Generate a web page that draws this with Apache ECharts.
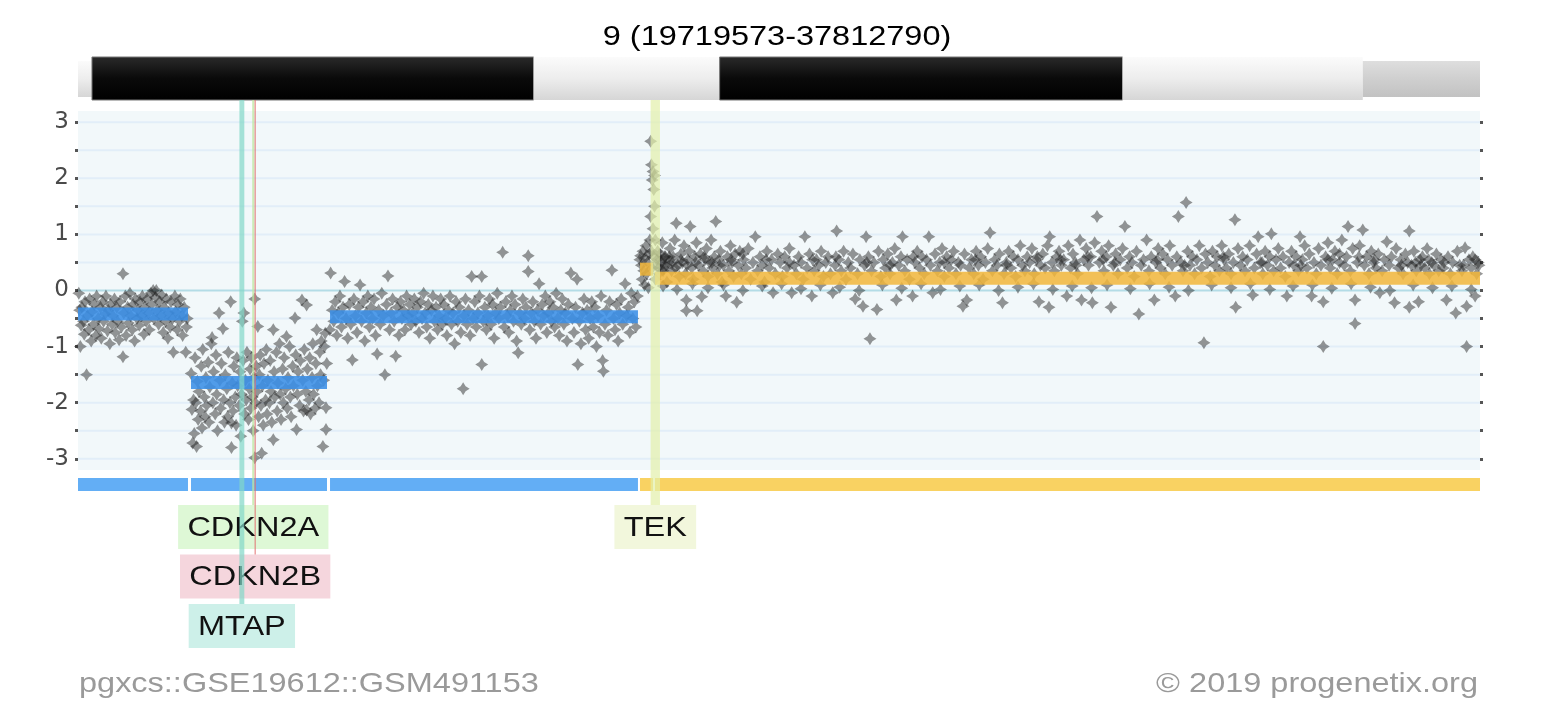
<!DOCTYPE html>
<html><head><meta charset="utf-8">
<script src="https://cdn.jsdelivr.net/npm/echarts@6/dist/echarts.min.js"></script>
<style>html,body{margin:0;padding:0;background:#fff}#chart{width:1542px;height:706px}</style>
</head><body><div id="chart"></div>
<script>
// ---------- data ----------
const regionStart = 19.719573, regionEnd = 37.812790; // Mb
const titleText = '9 (19719573-37812790)';
const footerLeft = 'pgxcs::GSE19612::GSM491153';
const footerRight = '\u00A9 2019 progenetix.org';
const yLabelValues = [-3, -2, -1, 0, 1, 2, 3];
const yTickValues = [-3, -2.5, -2, -1.5, -1, -0.5, 0, 0.5, 1, 1.5, 2, 2.5, 3];

const bandNames  = ['p22.1', 'p21.3', 'p21.2', 'p21.1', 'p13.3', 'p13.2'];
const bandStarts = [18.5, 19.9, 25.6, 28.0, 33.2, 36.3];
const bandEnds   = [19.9, 25.6, 28.0, 33.2, 36.3, 38.4];
const bandStains = ['gneg', 'gpos100', 'gneg', 'gpos100', 'gneg', 'gpos25'];

const segStarts = [19.719573, 21.178, 22.972, 26.972, 27.166];
const segEnds   = [21.139, 22.933, 26.946, 27.140, 37.812790];
const segValues = [-0.42, -1.64, -0.47, 0.38, 0.22];

const geneNames  = ['CDKN2A', 'CDKN2B', 'MTAP', 'TEK'];
const geneStarts = [21.967751, 22.002902, 21.802635, 27.109141];
const geneEnds   = [21.995300, 22.009312, 21.865971, 27.230174];

const probesA = [[19.73,-0.05],[19.74,-0.35],[19.75,-1.0],[19.76,-0.62],[19.77,-0.3],[19.79,-0.55],[19.80,-0.78],[19.81,-0.2],[19.83,-1.5],[19.84,-0.45],[19.86,-0.7],[19.87,-0.15],[19.89,-0.9],[19.90,-0.38],[19.92,-0.6],[19.93,-0.25],[19.95,-0.8],[19.96,-0.1],[19.98,-0.5],[19.99,-0.68],[20.01,-0.3],[20.02,-0.85],[20.04,-0.2],[20.05,-0.55],[20.07,-0.42],[20.08,-0.1],[20.10,-0.72],[20.11,-0.35],[20.13,-0.95],[20.14,-0.25],[20.16,-0.6],[20.17,-0.45],[20.19,-0.15],[20.20,-0.75],[20.22,-0.3],[20.23,-0.55],[20.25,-0.88],[20.26,-0.2],[20.28,-0.65],[20.30,0.3],[20.30,-1.18],[20.31,-0.4],[20.33,-0.1],[20.34,-0.8],[20.36,-0.3],[20.37,-0.58],[20.39,-0.05],[20.40,-0.45],[20.42,-0.7],[20.43,-0.25],[20.45,-0.9],[20.46,-0.15],[20.48,-0.5],[20.49,-0.35],[20.51,-0.62],[20.52,-0.2],[20.54,-0.45],[20.55,-0.1],[20.57,-0.78],[20.58,-0.3],[20.60,-0.55],[20.61,-0.15],[20.63,-0.4],[20.64,-0.7],[20.66,-0.05],[20.67,-0.25],[20.69,0.0],[20.70,-0.5],[20.72,-0.12],[20.73,0.0],[20.74,-0.35],[20.76,-0.6],[20.77,-0.2],[20.79,-0.45],[20.80,-0.08],[20.82,-0.75],[20.83,-0.3],[20.85,-0.55],[20.86,-0.15],[20.88,-0.85],[20.89,-0.4],[20.91,-0.65],[20.92,-0.2],[20.94,-0.5],[20.95,-1.1],[20.97,-0.1],[20.98,-0.38],[21.00,-0.7],[21.01,-0.25],[21.03,-0.55],[21.04,-0.15],[21.06,-0.45],[21.07,-0.8],[21.09,-0.3],[21.11,-1.1],[21.12,-0.65],[21.13,-0.5]];

const probesB = [[21.18,-1.48],[21.19,-2.12],[21.20,-2.72],[21.21,-1.95],[21.22,-2.55],[21.23,-1.2],[21.24,-2.0],[21.25,-2.78],[21.26,-1.62],[21.27,-2.3],[21.28,-1.8],[21.30,-2.15],[21.31,-1.35],[21.32,-2.45],[21.33,-1.05],[21.35,-1.9],[21.36,-2.25],[21.37,-1.55],[21.38,-2.05],[21.40,-1.28],[21.41,-2.35],[21.42,-1.72],[21.44,-0.95],[21.45,-0.84],[21.46,-2.0],[21.47,-1.45],[21.49,-2.2],[21.50,-1.15],[21.51,-1.85],[21.52,-2.5],[21.54,-0.4],[21.55,-1.6],[21.56,-2.1],[21.57,-1.3],[21.59,-0.68],[21.60,-1.95],[21.61,-2.35],[21.62,-1.5],[21.64,-1.75],[21.65,-2.25],[21.66,-1.1],[21.68,-2.0],[21.69,-0.2],[21.70,-2.8],[21.70,-2.36],[21.71,-1.65],[21.72,-2.15],[21.73,-1.35],[21.75,-1.9],[21.76,-2.4],[21.77,-1.2],[21.78,-1.7],[21.80,-2.05],[21.81,-1.45],[21.82,-2.6],[21.83,-1.85],[21.84,-0.55],[21.85,-1.25],[21.86,-0.4],[21.87,-2.2],[21.88,-1.6],[21.89,-1.95],[21.90,-1.1],[21.92,-2.3],[21.93,-1.75],[21.94,-1.4],[21.95,-2.1],[21.96,-1.2],[21.97,-1.9],[21.98,-2.5],[21.99,-1.55],[22.00,-0.15],[22.00,-2.98],[22.01,-2.0],[22.02,-1.35],[22.03,-1.8],[22.04,-0.64],[22.05,-2.25],[22.06,-1.5],[22.07,-1.15],[22.08,-2.05],[22.09,-2.9],[22.10,-1.7],[22.11,-2.4],[22.12,-1.3],[22.14,-1.95],[22.15,-1.05],[22.16,-2.2],[22.17,-1.6],[22.19,-2.0],[22.20,-1.25],[22.21,-1.8],[22.22,-2.35],[22.24,-0.7],[22.24,-2.66],[22.25,-1.45],[22.26,-1.9],[22.28,-1.1],[22.29,-2.15],[22.30,-1.65],[22.32,-0.95],[22.33,-1.85],[22.34,-2.3],[22.36,-1.4],[22.37,-2.0],[22.38,-1.2],[22.40,-1.75],[22.41,-0.82],[22.42,-2.1],[22.43,-1.55],[22.45,-1.0],[22.46,-1.9],[22.47,-2.25],[22.49,-1.35],[22.50,-1.7],[22.52,-0.49],[22.53,-1.15],[22.54,-2.48],[22.55,-1.85],[22.56,-1.45],[22.58,-2.05],[22.59,-1.25],[22.61,-0.17],[22.62,-1.6],[22.63,-2.15],[22.64,-1.05],[22.66,-1.8],[22.67,-0.26],[22.67,-2.13],[22.68,-1.4],[22.70,-1.95],[22.71,-1.2],[22.72,-2.2],[22.74,-1.55],[22.75,-0.95],[22.76,-1.85],[22.78,-2.1],[22.79,-1.3],[22.80,-0.7],[22.81,-1.7],[22.83,-2.0],[22.84,-1.1],[22.85,-1.5],[22.86,-0.9],[22.88,-2.78],[22.89,-1.6],[22.90,-1.0],[22.91,-0.76],[22.92,-2.48],[22.92,-2.09],[22.93,-1.3]];

const probesC = [[22.97,-0.7],[22.98,0.31],[23.00,-0.35],[23.02,-0.55],[23.04,-0.2],[23.06,-0.8],[23.08,-0.4],[23.10,-0.1],[23.12,-0.65],[23.14,-0.3],[23.16,0.16],[23.18,-0.5],[23.20,-0.85],[23.22,-0.25],[23.24,-0.6],[23.26,-1.24],[23.28,-0.15],[23.30,-0.45],[23.32,-0.75],[23.34,-0.3],[23.36,0.1],[23.38,-0.55],[23.40,-0.2],[23.42,-0.9],[23.44,-0.4],[23.46,-0.1],[23.48,-0.65],[23.50,-0.3],[23.52,-0.5],[23.54,-0.15],[23.56,-0.8],[23.58,-1.13],[23.60,-0.35],[23.62,-0.6],[23.64,-0.05],[23.66,-0.45],[23.68,-1.5],[23.70,-0.25],[23.72,0.26],[23.74,-0.7],[23.76,-0.4],[23.78,-0.15],[23.80,-0.55],[23.82,-1.17],[23.84,-0.3],[23.86,-0.8],[23.88,-0.2],[23.90,-0.5],[23.92,-0.35],[23.94,-0.7],[23.96,-0.1],[23.98,-0.45],[24.00,-0.25],[24.02,-0.6],[24.04,-0.4],[24.06,-0.15],[24.08,-0.55],[24.10,-0.3],[24.12,-0.75],[24.14,-0.2],[24.16,-0.5],[24.18,-0.05],[24.20,-0.4],[24.22,-0.65],[24.24,-0.25],[24.26,-0.85],[24.28,-0.35],[24.30,-0.1],[24.32,-0.55],[24.34,-0.3],[24.36,-0.7],[24.38,-0.45],[24.40,-0.15],[24.42,-0.6],[24.44,-0.25],[24.46,-0.5],[24.48,-0.8],[24.50,-0.35],[24.52,-0.1],[24.54,-0.6],[24.56,-0.4],[24.58,-0.95],[24.60,-0.2],[24.62,-0.55],[24.64,-0.3],[24.66,-0.75],[24.69,-1.75],[24.70,-0.45],[24.72,-0.15],[24.74,-0.6],[24.76,-0.35],[24.78,-0.8],[24.80,0.25],[24.82,-0.5],[24.84,-0.2],[24.86,-0.65],[24.88,-0.4],[24.90,-0.1],[24.93,0.25],[24.93,-1.32],[24.95,-0.55],[24.97,-0.3],[24.99,-0.7],[25.01,-0.45],[25.03,-0.15],[25.05,-0.6],[25.07,-0.25],[25.09,-0.85],[25.11,-0.4],[25.13,-0.05],[25.15,-0.5],[25.17,-0.3],[25.20,0.68],[25.22,-0.65],[25.24,-0.2],[25.26,-0.45],[25.28,-0.75],[25.30,-0.35],[25.32,-0.1],[25.34,-0.55],[25.36,-0.25],[25.38,-0.9],[25.40,-1.11],[25.42,-0.4],[25.44,-0.6],[25.46,-0.15],[25.48,-0.5],[25.50,-0.3],[25.53,0.62],[25.53,0.34],[25.55,-0.7],[25.57,-0.4],[25.59,-0.2],[25.61,-0.55],[25.63,-0.85],[25.65,-0.35],[25.67,0.12],[25.69,-0.6],[25.71,-0.25],[25.73,-0.45],[25.75,-0.1],[25.77,-0.75],[25.79,-0.4],[25.81,-0.2],[25.83,-0.55],[25.85,-0.3],[25.87,-0.65],[25.89,-0.05],[25.91,-0.5],[25.93,-0.8],[25.95,-0.35],[25.97,-0.15],[25.99,-0.6],[26.01,-0.4],[26.03,-0.9],[26.05,-0.25],[26.08,0.31],[26.10,-0.5],[26.12,-0.75],[26.14,-0.3],[26.16,0.2],[26.17,-1.32],[26.19,-0.55],[26.21,-0.95],[26.23,-0.4],[26.25,-0.15],[26.27,-0.7],[26.29,-0.35],[26.31,-0.85],[26.33,-0.5],[26.35,-0.2],[26.37,-0.65],[26.39,-0.3],[26.41,-1.0],[26.43,-0.45],[26.45,-0.75],[26.47,-0.1],[26.49,-1.25],[26.50,-1.44],[26.52,-0.6],[26.54,-0.35],[26.56,-0.8],[26.58,-0.2],[26.61,0.36],[26.63,-0.5],[26.65,-0.7],[26.67,-0.25],[26.69,-0.9],[26.71,-0.4],[26.73,-0.15],[26.75,-0.6],[26.78,0.12],[26.80,-0.45],[26.82,-0.3],[26.84,-0.75],[26.86,-0.05],[26.88,-0.5],[26.90,-0.2],[26.92,-0.65],[26.94,-0.1]];

const probesD = [[26.97,0.55],[26.98,0.62],[26.99,0.45],[27.00,0.2],[27.01,0.7],[27.02,0.35],[27.03,0.1],[27.04,0.58],[27.05,0.8],[27.06,0.3],[27.07,0.5],[27.08,0.05],[27.09,0.65],[27.10,0.9],[27.11,2.66],[27.11,1.32],[27.12,2.24],[27.12,0.7],[27.13,1.97],[27.13,0.4],[27.14,2.12],[27.14,1.1],[27.15,1.8],[27.15,0.6],[27.16,1.5],[27.16,2.05],[27.17,0.9],[27.17,0.2]];

const probesE = [[27.18,0.45],[27.20,0.7],[27.22,0.3],[27.24,0.55],[27.26,0.85],[27.28,0.4],[27.30,0.6],[27.32,0.15],[27.34,0.5],[27.36,0.75],[27.38,0.35],[27.40,0.6],[27.42,0.9],[27.44,1.2],[27.46,0.45],[27.48,0.25],[27.50,0.65],[27.52,0.5],[27.54,0.8],[27.56,0.3],[27.57,-0.17],[27.57,-0.36],[27.59,0.55],[27.61,0.7],[27.62,1.14],[27.64,0.4],[27.66,0.2],[27.68,0.6],[27.70,0.85],[27.71,-0.36],[27.73,0.45],[27.75,0.65],[27.77,-0.11],[27.79,0.35],[27.81,0.55],[27.83,0.75],[27.85,0.25],[27.87,0.5],[27.89,0.9],[27.91,0.4],[27.93,0.6],[27.95,1.23],[27.97,0.3],[27.99,0.55],[28.01,0.7],[28.03,0.15],[28.05,0.45],[28.08,-0.1],[28.10,0.6],[28.12,0.35],[28.14,0.8],[28.16,0.5],[28.18,0.25],[28.20,0.65],[28.22,-0.21],[28.24,0.45],[28.26,0.7],[28.28,0.3],[28.31,0.55],[28.34,0.4],[28.37,0.75],[28.40,0.2],[28.43,0.5],[28.46,0.96],[28.49,0.35],[28.52,0.6],[28.55,0.45],[28.58,0.15],[28.61,0.7],[28.64,0.4],[28.67,0.55],[28.69,-0.04],[28.72,0.3],[28.75,0.65],[28.78,0.5],[28.81,0.25],[28.84,0.6],[28.87,0.4],[28.90,0.75],[28.93,-0.04],[28.96,0.45],[28.99,0.3],[29.02,0.6],[29.05,0.5],[29.08,0.2],[29.10,0.96],[29.13,0.4],[29.16,0.65],[29.19,-0.1],[29.22,0.35],[29.25,0.55],[29.28,0.45],[29.31,0.7],[29.34,0.25],[29.37,0.5],[29.40,0.6],[29.43,0.3],[29.46,-0.04],[29.49,0.45],[29.51,1.06],[29.54,0.55],[29.57,0.35],[29.60,0.7],[29.63,0.2],[29.66,0.5],[29.69,0.4],[29.72,0.65],[29.75,-0.15],[29.78,0.3],[29.81,0.55],[29.85,-0.28],[29.87,0.45],[29.89,0.96],[29.92,0.6],[29.94,-0.86],[29.96,0.35],[29.99,0.5],[30.03,-0.34],[30.05,0.7],[30.08,0.25],[30.11,0.55],[30.14,0.4],[30.17,0.65],[30.20,0.3],[30.23,0.5],[30.26,0.75],[30.28,-0.17],[30.31,0.45],[30.34,0.6],[30.36,0.96],[30.39,0.35],[30.42,0.55],[30.45,0.2],[30.49,-0.1],[30.52,0.5],[30.55,0.7],[30.58,0.4],[30.61,0.6],[30.64,0.3],[30.67,0.55],[30.70,0.96],[30.72,0.45],[30.75,-0.04],[30.78,0.65],[30.81,0.35],[30.84,0.5],[30.87,0.75],[30.90,0.25],[30.93,0.6],[30.96,0.4],[30.99,0.55],[31.02,0.7],[31.05,0.3],[31.08,0.5],[31.11,0.45],[31.14,-0.28],[31.16,0.65],[31.19,-0.17],[31.22,0.4],[31.25,0.55],[31.28,0.3],[31.31,0.7],[31.34,0.45],[31.37,0.6],[31.40,0.2],[31.43,0.5],[31.46,0.75],[31.49,1.03],[31.52,0.35],[31.55,0.55],[31.58,0.45],[31.61,0.65],[31.65,-0.22],[31.67,0.3],[31.70,0.5],[31.73,0.7],[31.76,0.4],[31.79,0.6],[31.82,0.25],[31.85,0.55],[31.88,0.8],[31.91,0.45],[31.94,0.35],[31.97,0.6],[32.00,0.5],[32.03,0.75],[32.06,0.3],[32.09,0.55],[32.12,-0.2],[32.14,0.45],[32.17,0.65],[32.20,0.4],[32.23,0.8],[32.25,-0.3],[32.26,0.96],[32.29,0.5],[32.32,0.35],[32.35,0.6],[32.38,0.7],[32.41,0.45],[32.44,0.55],[32.48,-0.1],[32.50,0.8],[32.53,0.4],[32.56,0.65],[32.59,0.5],[32.62,0.3],[32.65,0.9],[32.67,-0.17],[32.70,0.55],[32.73,0.75],[32.76,0.45],[32.79,0.6],[32.81,-0.22],[32.84,0.85],[32.87,1.32],[32.90,0.5],[32.93,0.7],[32.96,0.35],[32.99,0.6],[33.02,0.8],[33.05,-0.3],[33.08,0.45],[33.11,0.65],[33.14,0.3],[33.17,0.55],[33.20,0.75],[33.23,1.14],[33.26,0.4],[33.29,0.6],[33.32,0.5],[33.35,0.25],[33.38,0.7],[33.41,-0.42],[33.44,0.45],[33.47,0.55],[33.51,0.9],[33.54,0.35],[33.57,0.6],[33.61,-0.17],[33.63,0.5],[33.66,0.75],[33.69,0.4],[33.72,0.65],[33.75,0.3],[33.78,0.55],[33.81,0.8],[33.84,0.45],[33.88,-0.1],[33.90,0.6],[33.92,1.32],[33.95,0.5],[33.98,0.35],[34.02,1.57],[34.04,0.7],[34.07,0.45],[34.10,0.6],[34.13,0.3],[34.16,0.55],[34.19,0.8],[34.22,0.4],[34.25,-0.93],[34.27,0.65],[34.30,0.5],[34.33,0.25],[34.36,0.7],[34.39,0.45],[34.42,0.6],[34.45,0.35],[34.48,0.8],[34.51,0.55],[34.54,0.4],[34.57,0.65],[34.60,0.3],[34.63,0.5],[34.65,1.26],[34.66,-0.3],[34.69,0.75],[34.72,0.45],[34.75,0.6],[34.78,0.35],[34.81,0.55],[34.84,0.8],[34.88,-0.08],[34.90,0.4],[34.93,0.65],[34.95,0.96],[34.98,0.5],[35.01,0.3],[35.04,0.7],[35.07,0.45],[35.10,0.6],[35.12,1.01],[35.15,0.35],[35.18,0.55],[35.21,0.75],[35.24,0.4],[35.27,0.6],[35.30,0.25],[35.32,-0.1],[35.35,0.5],[35.38,0.7],[35.41,0.45],[35.44,0.6],[35.47,0.35],[35.49,0.96],[35.52,0.55],[35.55,0.8],[35.58,0.4],[35.61,0.65],[35.64,-0.1],[35.67,0.5],[35.70,0.3],[35.73,0.75],[35.76,0.45],[35.79,-0.2],[35.79,-1.0],[35.82,0.6],[35.85,0.85],[35.88,0.4],[35.91,0.55],[35.94,0.7],[35.97,0.3],[36.00,0.65],[36.03,0.9],[36.06,0.45],[36.09,0.6],[36.11,1.14],[36.14,0.35],[36.17,0.75],[36.20,-0.59],[36.20,-0.17],[36.23,0.5],[36.26,0.8],[36.30,1.08],[36.32,0.45],[36.35,0.6],[36.38,0.3],[36.41,0.7],[36.44,0.5],[36.47,0.4],[36.50,0.65],[36.52,-0.04],[36.55,0.35],[36.58,0.55],[36.61,0.87],[36.64,0.45],[36.67,0.6],[36.71,-0.22],[36.73,0.75],[36.76,0.4],[36.79,0.55],[36.82,0.3],[36.85,0.65],[36.88,0.5],[36.90,1.06],[36.90,-0.3],[36.93,0.45],[36.96,0.7],[36.99,0.35],[37.02,-0.2],[37.04,0.55],[37.07,0.6],[37.10,0.4],[37.13,0.75],[37.16,0.3],[37.19,0.5],[37.22,0.45],[37.25,0.65],[37.28,0.35],[37.31,0.55],[37.34,0.4],[37.38,-0.17],[37.40,0.6],[37.43,0.3],[37.46,0.5],[37.50,-0.4],[37.52,0.7],[37.55,0.45],[37.58,0.35],[37.62,0.76],[37.64,-1.0],[37.64,-0.28],[37.67,0.55],[37.70,0.4],[37.72,0.6],[37.75,-0.1],[37.77,0.3],[37.79,0.5],[37.80,0.45]];

const probesE2 = [[27.27,0.08],[27.45,0.02],[27.65,0.12],[27.85,0.05],[28.05,0.1],[28.30,0.0],[28.55,0.08],[28.80,0.12],[29.05,0.03],[29.30,0.1],[29.55,0.06],[29.80,0.0],[30.10,0.1],[30.35,0.04],[30.60,0.12],[30.85,0.02],[31.10,0.08],[31.35,0.1],[31.60,0.0],[31.85,0.06],[32.05,0.12],[32.30,0.02],[32.55,0.08],[32.80,0.05],[33.00,0.1],[33.30,0.03],[33.55,0.12],[33.80,0.06],[34.05,0.0],[34.35,0.1],[34.60,0.05],[34.85,0.12],[35.10,0.02],[35.40,0.08],[35.65,0.1],[35.90,0.04],[36.15,0.12],[36.40,0.06],[36.65,0.0],[36.95,0.1],[37.20,0.05],[37.45,0.08],[37.70,0.02]];

const probesE3 = [[27.19,0.55],[27.21,0.4],[27.23,0.65],[27.25,0.5],[27.27,0.35],[27.29,0.6],[27.31,0.45],[27.35,0.6],[27.39,0.5],[27.43,0.4],[27.50,0.55],[27.58,0.45],[27.69,0.5],[27.80,0.6],[27.90,0.5],[28.00,0.45],[28.15,0.55],[28.30,0.65],[28.60,0.55],[28.90,0.5],[29.20,0.55],[29.50,0.6],[29.90,0.5],[30.20,0.45],[30.50,0.6],[30.90,0.5],[31.30,0.55],[31.70,0.45],[32.10,0.6],[32.40,0.55],[32.60,0.45],[32.75,0.6],[32.95,0.55],[33.10,0.5],[33.65,0.55],[34.00,0.45],[34.50,0.6],[35.00,0.5],[35.50,0.45],[35.85,0.55],[36.00,0.5],[36.25,0.6],[36.45,0.55],[36.80,0.45],[36.98,0.5],[37.05,0.45],[37.15,0.55],[37.35,0.5],[37.60,0.45],[37.75,0.55]];

// ---------- layout / style ----------
const GL = 78, GR = 62, GW = 1542 - GL - GR;
const TEXT_SX = 1.16;
const FS = 28;
const FONT = '"Liberation Sans", Arial, sans-serif';
const geneColors = {
  CDKN2A: {box: '#def8d6', line: 'rgba(190,232,160,0.75)'},
  CDKN2B: {box: '#f5d6dd', line: 'rgba(226,110,110,0.8)'},
  MTAP:   {box: '#cdf0e9', line: 'rgba(130,215,200,0.7)'},
  TEK:    {box: '#f2f7dc', line: 'rgba(226,240,170,0.7)'}
};
const mctx = document.createElement('canvas').getContext('2d');
function textW(t, size) { mctx.font = size + 'px "Liberation Sans"'; return mctx.measureText(t).width; }

// label rows (greedy, by pixel extent)
const pxPerMb = GW / (regionEnd - regionStart);
const geneRows = [];
const rowEnds = [];
geneNames.forEach((g, i) => {
  const cx = GL + ((geneStarts[i] + geneEnds[i]) / 2 - regionStart) * pxPerMb;
  const w = (textW(g, FS) + 16) * TEXT_SX;
  const l = cx - w / 2, r = cx + w / 2;
  let row = 0;
  while (rowEnds[row] !== undefined && rowEnds[row].some(([a, b]) => !(r < a || l > b))) row++;
  (rowEnds[row] = rowEnds[row] || []).push([l, r]);
  geneRows.push(row);
});

function bandFill(stain) {
  if (stain === 'gpos100') return new echarts.graphic.LinearGradient(0, 0, 0, 1, [{offset: 0, color: '#2a2a2a'}, {offset: 0.5, color: '#0a0a0a'}, {offset: 1, color: '#000'}]);
  if (stain === 'gpos25') return new echarts.graphic.LinearGradient(0, 0, 0, 1, [{offset: 0, color: '#dedede'}, {offset: 0.5, color: '#cfcfcf'}, {offset: 1, color: '#c2c2c2'}]);
  return new echarts.graphic.LinearGradient(0, 0, 0, 1, [{offset: 0, color: '#fbfbfb'}, {offset: 0.5, color: '#ededed'}, {offset: 1, color: '#d6d6d6'}]);
}

const starPath = 'path://M5,0 L6.9,3.1 L10,5 L6.9,6.9 L5,10 L3.1,6.9 L0,5 L3.1,3.1 Z';
const allProbes = [].concat(probesA, probesB, probesC, probesD, probesE, probesE2, probesE3);

const xAx = (gi) => ({type: 'value', gridIndex: gi, min: regionStart, max: regionEnd, show: false});

const option = {
  animation: false,
  backgroundColor: '#fff',
  grid: [
    {left: GL, right: GR, top: 57, height: 43},
    {left: GL, right: GR, top: 111, height: 359, show: true, backgroundColor: '#f2f8fa', borderWidth: 0},
    {left: GL, right: GR, top: 478, height: 13},
    {left: GL, right: GR, top: 100, height: 550}
  ],
  xAxis: [xAx(0), xAx(1), xAx(2), xAx(3)],
  yAxis: [
    {type: 'value', gridIndex: 0, min: 0, max: 1, show: false},
    {type: 'value', gridIndex: 1, min: -3.2, max: 3.2, position: 'left',
      axisLine: {show: false}, splitLine: {show: false},
      axisTick: {show: true, customValues: yTickValues, length: 3, lineStyle: {color: '#555', width: 3}},
      axisLabel: {show: true, customValues: yLabelValues, margin: 9, color: '#4a4a4a', fontSize: 23, fontFamily: 'DejaVu Sans'}},
    {type: 'value', gridIndex: 1, min: -3.2, max: 3.2, position: 'right',
      axisLine: {show: false}, splitLine: {show: false},
      axisTick: {show: true, customValues: yTickValues, length: 3, lineStyle: {color: '#555', width: 3}},
      axisLabel: {show: false}},
    {type: 'value', gridIndex: 2, min: 0, max: 1, show: false},
    {type: 'value', gridIndex: 3, min: 0, max: 1, show: false}
  ],
  graphic: [
    {type: 'text', x: 777, y: 37, scaleX: TEXT_SX, style: {text: titleText, font: FS + 'px ' + FONT, fill: '#000', align: 'center', verticalAlign: 'middle', textAlign: 'center', textVerticalAlign: 'middle'}},
    {type: 'text', x: 79, y: 684, scaleX: TEXT_SX, style: {text: footerLeft, font: FS + 'px ' + FONT, fill: '#9a9a9a', align: 'left', verticalAlign: 'middle', textAlign: 'left', textVerticalAlign: 'middle'}},
    {type: 'text', x: 1478, y: 684, scaleX: TEXT_SX, style: {text: footerRight, font: FS + 'px ' + FONT, fill: '#9a9a9a', align: 'right', verticalAlign: 'middle', textAlign: 'right', textVerticalAlign: 'middle'}}
  ],
  series: [
    { // ideogram
      type: 'custom', xAxisIndex: 0, yAxisIndex: 0, silent: true, z: 2,
      data: bandStarts.map((s, i) => [s, bandEnds[i], i]),
      renderItem: function (params, api) {
        const i = api.value(2);
        const s0 = api.value(0), e0 = api.value(1);
        const s = Math.max(s0, regionStart), e = Math.min(e0, regionEnd);
        if (e <= s) return null;
        const clipped = s0 < regionStart || e0 > regionEnd;
        const cs = params.coordSys;
        const x0 = api.coord([s, 0])[0], x1 = api.coord([e, 0])[0];
        const top = cs.y + (clipped ? 4 : 0), h = cs.height - (clipped ? 7 : 0);
        const st = bandStains[i];
        return {type: 'rect', shape: {x: x0, y: top, width: x1 - x0, height: h},
          style: {fill: bandFill(st), stroke: st === 'gpos100' ? '#777' : null, lineWidth: st === 'gpos100' ? 1 : 0}};
      }
    },
    { // gridlines
      type: 'custom', xAxisIndex: 1, yAxisIndex: 1, silent: true, z: 1,
      data: yTickValues.map(v => [v]),
      renderItem: function (params, api) {
        const v = api.value(0);
        const cs = params.coordSys;
        const y = api.coord([regionStart, v])[1];
        return {type: 'line', shape: {x1: cs.x, y1: y, x2: cs.x + cs.width, y2: y},
          style: {stroke: v === 0 ? '#b3dce6' : '#e2eef8', lineWidth: 2}};
      }
    },
    { // probes
      type: 'scatter', xAxisIndex: 1, yAxisIndex: 1, silent: true, z: 2,
      symbol: starPath, symbolSize: 13,
      itemStyle: {color: 'rgba(30,30,30,0.58)'},
      data: allProbes
    },
    { // segments in plot
      type: 'custom', xAxisIndex: 1, yAxisIndex: 1, silent: true, z: 3,
      data: segStarts.map((s, i) => [s, segEnds[i], segValues[i]]),
      renderItem: function (params, api) {
        const v = api.value(2);
        const p0 = api.coord([api.value(0), v]), p1 = api.coord([api.value(1), v]);
        return {type: 'rect', shape: {x: p0[0], y: p0[1] - 6.5, width: p1[0] - p0[0], height: 13},
          style: {fill: v < 0 ? 'rgba(58,142,230,0.88)' : 'rgba(242,182,58,0.85)'}};
      }
    },
    { // status bar
      type: 'custom', xAxisIndex: 2, yAxisIndex: 3, silent: true, z: 2,
      data: segStarts.map((s, i) => [s, segEnds[i], segValues[i]]),
      renderItem: function (params, api) {
        const cs = params.coordSys;
        const v = api.value(2);
        const x0 = api.coord([api.value(0), 0])[0], x1 = api.coord([api.value(1), 0])[0];
        return {type: 'rect', shape: {x: x0, y: cs.y, width: x1 - x0, height: cs.height},
          style: {fill: v < 0 ? '#63aef5' : '#f9d262'}};
      }
    },
    { // genes: labels + marker lines
      type: 'custom', xAxisIndex: 3, yAxisIndex: 4, silent: true, z: 6,
      data: geneStarts.map((s, i) => [s, geneEnds[i], i]),
      renderItem: function (params, api) {
        const i = api.value(2);
        const name = geneNames[i];
        const cs = params.coordSys;
        const x0 = api.coord([api.value(0), 0])[0], x1 = api.coord([api.value(1), 0])[0];
        const cx = (x0 + x1) / 2;
        const boxTop = 505 + geneRows[i] * 49.5;
        const tw = textW(name, FS) + 16;
        const lw = Math.max(x1 - x0, 1.2);
        return {type: 'group', children: [
          {type: 'group', x: cx, y: boxTop, scaleX: TEXT_SX, children: [
            {type: 'rect', shape: {x: -tw / 2, y: 0, width: tw, height: 44}, style: {fill: geneColors[name].box}},
            {type: 'text', style: {text: name, x: 0, y: 23, font: FS + 'px ' + FONT, fill: '#111', align: 'center', verticalAlign: 'middle', textAlign: 'center', textVerticalAlign: 'middle'}}
          ]},
          {type: 'rect', shape: {x: cx - lw / 2, y: cs.y, width: lw, height: boxTop - cs.y}, style: {fill: geneColors[name].line}}
        ]};
      }
    }
  ]
};

const chart = echarts.init(document.getElementById('chart'), null, {renderer: 'canvas'});
chart.setOption(option);
</script></body></html>
